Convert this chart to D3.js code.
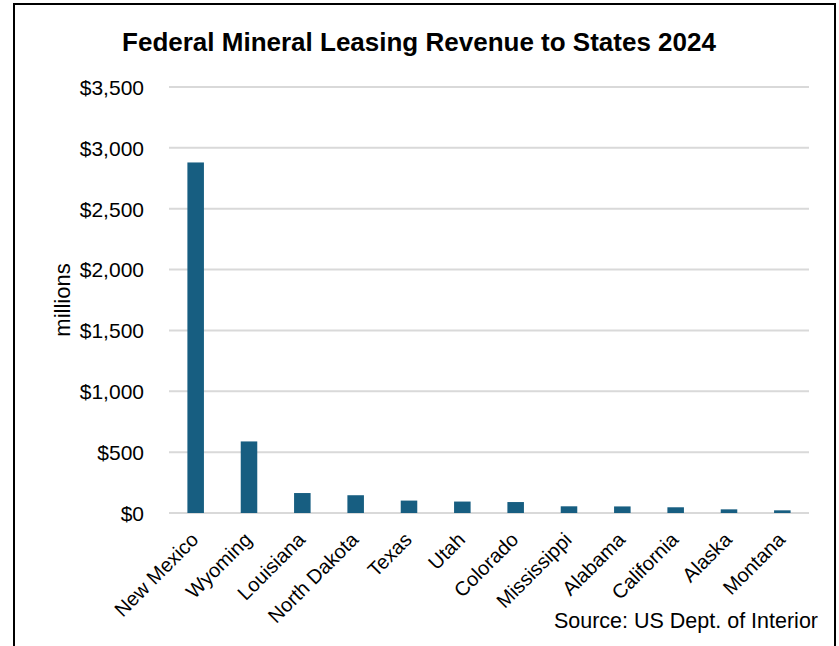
<!DOCTYPE html>
<html>
<head>
<meta charset="utf-8">
<script src="https://cdn.jsdelivr.net/npm/d3@7"></script>
<style>
  body { margin: 0; background: #fff; }
  text { font-family: "Liberation Sans", Arial, sans-serif; fill: #000; }
</style>
</head>
<body>
<div id="chart"></div>
<script>
// Data (millions of dollars)
var states = ["New Mexico", "Wyoming", "Louisiana", "North Dakota", "Texas", "Utah",
              "Colorado", "Mississippi", "Alabama", "California", "Alaska", "Montana"];
var revenue = [2880, 588, 164, 146, 102, 94, 90, 55, 54, 47, 30, 22];
var yTicks = [0, 500, 1000, 1500, 2000, 2500, 3000, 3500];

var W = 839, H = 646;
var margin = { top: 87, right: 30, bottom: 133, left: 169 },
    width = 809 - margin.left,
    height = 513 - margin.top;

var svg = d3.select("#chart")
    .append("svg")
    .attr("width", W)
    .attr("height", H);

// frame
svg.append("rect")
    .attr("x", 14).attr("y", 4)
    .attr("width", 821).attr("height", H + 10)
    .style("fill", "none")
    .style("stroke", "#000")
    .style("stroke-width", 2);

// title
svg.append("text")
    .attr("x", 419).attr("y", 51)
    .style("text-anchor", "middle")
    .style("font-weight", "bold")
    .style("font-size", "26px")
    .text("Federal Mineral Leasing Revenue to States 2024");

var g = svg.append("g")
    .attr("transform", "translate(" + margin.left + "," + margin.top + ")");

var x = d3.scaleBand().domain(states).range([0, width]).paddingInner(0.69).paddingOuter(0.345);
var y = d3.scaleLinear().domain([0, 3500]).range([height, 0]);

// gridlines
g.selectAll(".grid")
    .data(yTicks)
    .enter()
    .append("line")
    .attr("x1", 0).attr("x2", width)
    .attr("y1", function (d) { return y(d); })
    .attr("y2", function (d) { return y(d); })
    .style("stroke", "#d9d9d9")
    .style("stroke-width", 2);

// Y axis
var yAxis = g.append("g")
    .call(d3.axisLeft(y).tickValues(yTicks).tickSize(0).tickPadding(25)
        .tickFormat(function (d) { return "$" + d3.format(",")(d); }));
yAxis.select(".domain").remove();
yAxis.selectAll("text")
    .style("font-size", "21px")
    .style("font-family", "Liberation Sans, Arial, sans-serif")
    .attr("dy", "0.35em");

// bars
g.selectAll(".bar")
    .data(revenue)
    .enter()
    .append("rect")
    .attr("x", function (d, i) { return x(states[i]); })
    .attr("y", function (d) { return y(d); })
    .attr("width", x.bandwidth())
    .attr("height", function (d) { return height - y(d); })
    .style("fill", "#175e81");

// X axis labels
var xAxis = g.append("g")
    .attr("transform", "translate(0," + height + ")")
    .call(d3.axisBottom(x).tickSize(0).tickPadding(0));
xAxis.select(".domain").remove();
xAxis.selectAll("text")
    .style("font-size", "20px")
    .style("font-family", "Liberation Sans, Arial, sans-serif")
    .style("text-anchor", "end")
    .attr("dy", "0")
    .attr("transform", "translate(4,28) rotate(-45)");

// y axis title
svg.append("text")
    .attr("transform", "translate(70,300) rotate(-90)")
    .style("text-anchor", "middle")
    .style("font-size", "22px")
    .text("millions");

// source
svg.append("text")
    .attr("x", 818).attr("y", 628)
    .style("text-anchor", "end")
    .style("font-size", "21.5px")
    .text("Source: US Dept. of Interior");
</script>
</body>
</html>
